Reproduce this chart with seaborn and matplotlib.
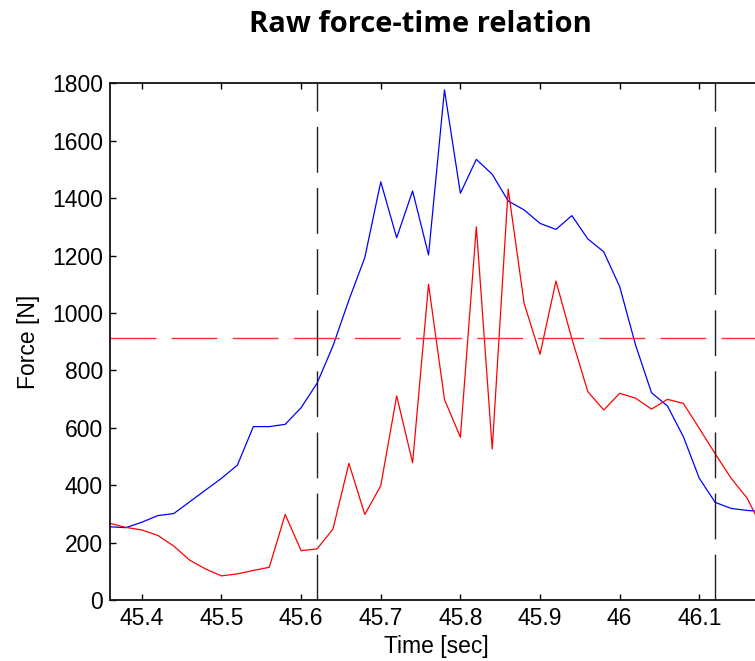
import matplotlib
matplotlib.use("Agg")
import matplotlib.pyplot as plt
import numpy as np
import pandas as pd
import seaborn as sns

# time samples [sec]
time = [45.36, 45.38, 45.40, 45.42, 45.44, 45.46, 45.48, 45.50, 45.52, 45.54,
        45.56, 45.58, 45.60, 45.62, 45.64, 45.66, 45.68, 45.70, 45.72, 45.74,
        45.76, 45.78, 45.80, 45.82, 45.84, 45.86, 45.88, 45.90, 45.92, 45.94,
        45.96, 45.98, 46.00, 46.02, 46.04, 46.06, 46.08, 46.10, 46.12, 46.14,
        46.16, 46.18]

# blue force curve [N]
force_blue = [255, 252, 271, 294, 301, 342, 383, 424, 470, 604,
              604, 612, 670, 755, 885, 1045, 1193, 1457, 1262, 1425,
              1202, 1777, 1417, 1535, 1483, 1390, 1359, 1312, 1291, 1339,
              1258, 1213, 1092, 888, 722, 676, 569, 424, 340, 319,
              312, 308]

# red force curve [N]
force_red = [267, 253, 244, 225, 188, 139, 108, 84, 91, 103,
             114, 298, 172, 178, 247, 476, 298, 398, 711, 478,
             1100, 699, 567, 1300, 526, 1432, 1034, 856, 1111, 910,
             726, 662, 720, 703, 665, 699, 685, 598, 509, 424,
             355, 245]

threshold = 912
t_start = 45.62
t_end = 46.12

xticks = [45.4, 45.5, 45.6, 45.7, 45.8, 45.9, 46.0, 46.1]
xticklabels = ['45.4', '45.5', '45.6', '45.7', '45.8', '45.9', '46', '46.1']
yticks = [0, 200, 400, 600, 800, 1000, 1200, 1400, 1600, 1800]

sns.set_style("ticks")
plt.rcParams['font.family'] = ['Liberation Sans', 'DejaVu Sans']
plt.rcParams['lines.scale_dashes'] = False
plt.rcParams['text.color'] = 'black'
plt.rcParams['axes.labelcolor'] = 'black'
plt.rcParams['xtick.color'] = 'black'
plt.rcParams['ytick.color'] = 'black'

df = pd.DataFrame({
    'time': time * 2,
    'force': force_blue + force_red,
    'curve': ['blue'] * len(time) + ['red'] * len(time),
})

fig = plt.figure(figsize=(7.55, 6.61), dpi=100)
ax = fig.add_axes([110 / 755, 61 / 661, 653 / 755, 516.7 / 661])

sns.lineplot(data=df, x='time', y='force', hue='curve',
             palette={'blue': '#0000ff', 'red': '#ff0000'},
             linewidth=0.9, legend=False, ax=ax)

ax.axhline(threshold, color='#ff3030', linewidth=1.0, dashes=(33, 11))
for t in [t_start, t_end]:
    ax.axvline(t, color='#222222', linewidth=1.0, dashes=(33, 11))

ax.set_xlim(45.36, 46.18)
ax.set_ylim(0, 1800)
ax.set_xticks(xticks)
ax.set_xticklabels(xticklabels)
ax.set_yticks(yticks)
ax.tick_params(direction='in', top=True, right=True, length=4, width=1,
               labelsize=16.5, pad=5)
for s in ax.spines.values():
    s.set_linewidth(1.3)
    s.set_color('#111111')

ax.set_xlabel('Time [sec]', fontsize=16.5, labelpad=4)
ax.set_ylabel('Force [N]', fontsize=16.5, labelpad=9)

fig.text(420 / 755, 1 - 25 / 661, 'Raw force-time relation',
         ha='center', va='center', fontsize=21, fontweight='bold',
         family=['Open Sans', 'DejaVu Sans'])

fig.savefig('out.png', dpi=100)
